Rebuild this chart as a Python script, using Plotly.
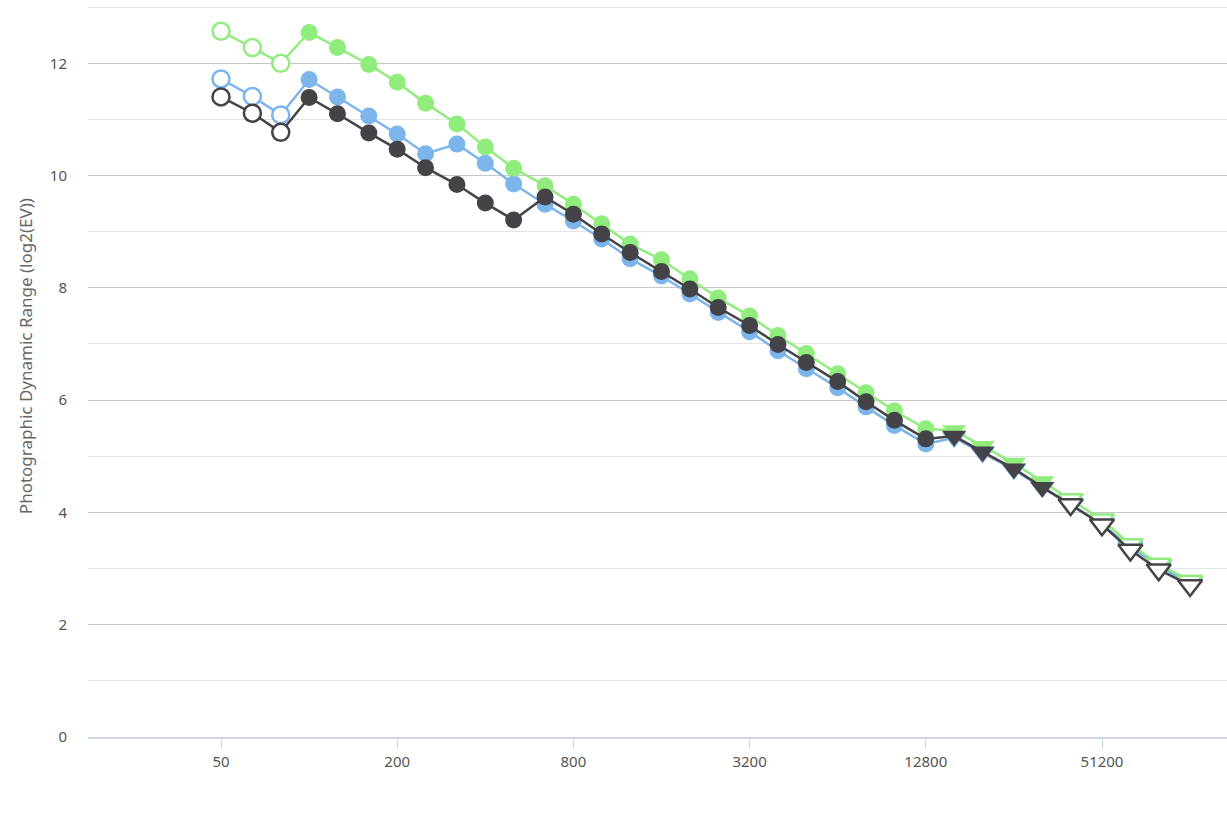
import plotly.graph_objects as go

iso = [50, 64, 80, 100, 125, 160, 200, 250, 320, 400, 500, 640, 800, 1000, 1250, 1600,
       2000, 2500, 3200, 4000, 5000, 6400, 8000, 10000, 12800, 16000, 20000, 25600,
       32000, 40000, 51200, 64000, 80000, 102400]

blue_dr = [11.72, 11.41, 11.08, 11.71, 11.40, 11.06, 10.74, 10.39, 10.56, 10.22, 9.85, 9.49,
           9.19, 8.87, 8.52, 8.21, 7.89, 7.56, 7.22, 6.88, 6.56, 6.22, 5.88, 5.55, 5.22,
           5.33, 5.06, 4.76, 4.44, 4.14, 3.79, 3.38, 3.05, 2.72]

green_dr = [12.57, 12.28, 12.00, 12.55, 12.28, 11.98, 11.66, 11.29, 10.92, 10.51, 10.13, 9.82,
            9.49, 9.14, 8.78, 8.50, 8.16, 7.82, 7.50, 7.15, 6.83, 6.47, 6.13, 5.81, 5.49,
            5.46, 5.18, 4.88, 4.55, 4.23, 3.87, 3.43, 3.08, 2.78]

dark_dr = [11.40, 11.11, 10.77, 11.39, 11.10, 10.76, 10.47, 10.14, 9.84, 9.51, 9.21, 9.62,
           9.31, 8.96, 8.63, 8.29, 7.98, 7.65, 7.33, 6.99, 6.67, 6.33, 5.97, 5.64, 5.31,
           5.36, 5.08, 4.78, 4.45, 4.14, 3.78, 3.33, 2.98, 2.70]

# marker style per point: 'o' open circle, 'c' filled circle, 't' filled triangle, 'v' open triangle
point_style = ['o'] * 3 + ['c'] * 22 + ['t'] * 4 + ['v'] * 5

x_ticks = [50, 200, 800, 3200, 12800, 51200]
y_title = "Photographic Dynamic Range (log2(EV))"

series = [("blue", blue_dr, "#7cb5ec"), ("green", green_dr, "#90ed7d"), ("dark", dark_dr, "#434348")]

fig = go.Figure()
for name, vals, col in series:
    symbols = ["circle" if s in "oc" else "triangle-down" for s in point_style]
    fills = ["#ffffff" if s in "ov" else col for s in point_style]
    lw = [2.5 if s in "ov" else 0 for s in point_style]
    sizes = [17 if s in "oc" else 21 for s in point_style]
    fig.add_trace(go.Scatter(
        x=iso, y=vals, mode="lines+markers", name=name,
        line=dict(color=col, width=2.5),
        marker=dict(symbol=symbols, color=fills, size=sizes, opacity=1,
                    line=dict(color=col, width=lw)),
        opacity=1,
        showlegend=False,
    ))

fig.update_layout(
    width=1227, height=822,
    margin=dict(l=88, r=0, t=6, b=85),
    plot_bgcolor="#ffffff", paper_bgcolor="#ffffff",
    font=dict(family="Noto Sans, sans-serif", size=15, color="#666666"),
    xaxis=dict(
        type="log", range=[1.2445, 5.1364],
        tickvals=x_ticks, ticktext=[str(v) for v in x_ticks],
        showgrid=False, zeroline=False,
        showline=True, linecolor="#ccd6eb", linewidth=2,
        ticks="outside", ticklen=10, tickcolor="#ccd6eb", tickwidth=1,
        tickfont=dict(size=15, color="#555555"),
    ),
    yaxis=dict(
        range=[0, 13.02], dtick=2, tick0=0,
        showgrid=True, gridcolor="#c6c6c6", gridwidth=1,
        minor=dict(dtick=1, showgrid=True, gridcolor="#e4e4e4", gridwidth=1),
        zeroline=False, showline=False,
        ticks="", ticklabelstandoff=20,
        tickfont=dict(size=15, color="#555555"),
    ),
    annotations=[dict(
        text=y_title, textangle=-90, xref="paper", yref="paper",
        x=0, xshift=-63, y=0.521, xanchor="center", yanchor="middle",
        showarrow=False, font=dict(size=17, color="#666666"),
    )],
)

fig.write_html("out.html")
